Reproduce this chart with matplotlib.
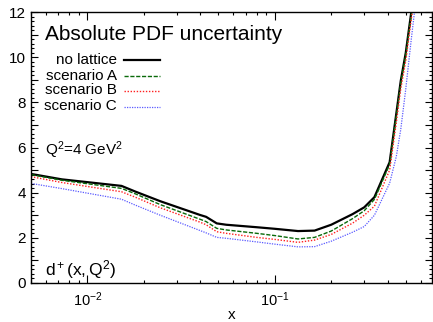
import math
import matplotlib
matplotlib.use("Agg")
import matplotlib.pyplot as plt
from matplotlib.ticker import MultipleLocator, LogLocator, FuncFormatter

plt.rcParams['font.family'] = ['Liberation Sans', 'DejaVu Sans']
plt.rcParams['mathtext.fontset'] = 'custom'
plt.rcParams['mathtext.rm'] = 'Liberation Sans'
plt.rcParams['mathtext.it'] = 'Liberation Sans:italic'

# x grid shared by all curves
x = [0.005, 0.0073, 0.0152, 0.018, 0.0245, 0.040, 0.043, 0.049, 0.055, 0.08, 0.10,
     0.133, 0.163, 0.20, 0.26, 0.30, 0.34, 0.41, 0.445, 0.47, 0.50, 0.535, 0.56, 0.60]

no_lattice = [4.83, 4.59, 4.30, 4.05, 3.62, 3.01, 2.93, 2.64, 2.58, 2.47, 2.40,
              2.30, 2.32, 2.58, 3.05, 3.35, 3.80, 5.35, 7.5, 8.95, 10.2, 12.0, 13.0, 14.5]
scen_A = [4.80, 4.55, 4.19, 3.95, 3.47, 2.82, 2.72, 2.42, 2.35, 2.20, 2.10,
          1.95, 2.02, 2.30, 2.85, 3.20, 3.70, 5.25, 7.4, 8.85, 10.1, 11.9, 12.9, 14.5]
scen_B = [4.71, 4.45, 4.04, 3.80, 3.33, 2.69, 2.58, 2.27, 2.20, 2.02, 1.93,
          1.80, 1.90, 2.15, 2.65, 3.00, 3.40, 5.00, 7.1, 8.6, 9.85, 11.7, 12.8, 14.5]
scen_C = [4.41, 4.18, 3.71, 3.45, 3.00, 2.32, 2.22, 2.02, 1.98, 1.82, 1.72,
          1.60, 1.61, 1.85, 2.25, 2.50, 3.00, 4.42, 5.6, 6.8, 8.6, 10.8, 12.2, 14.0]

labels = ["no lattice", "scenario A", "scenario B", "scenario C"]
colors = ['black', '#0a6a0a', '#ff2020', '#5a5aff']
widths = [1.6, 1.0, 1.0, 0.9]
styles = ['-', (0, (3, 1.2)), (0, (1, 1.2)), (0, (1, 1))]

W, H = 433, 322
L, R, T, B = 31, 432, 12, 283

fig = plt.figure(figsize=(W / 100, H / 100), dpi=100)
ax = fig.add_axes([L / W, 1 - B / H, (R - L) / W, (B - T) / H])

def ax_xy(px, py):
    # pixel position -> axes fraction
    return (px - L) / (R - L), (B - py) / (B - T)

for ys, lab, c, lw, ls in zip([no_lattice, scen_A, scen_B, scen_C], labels, colors, widths, styles):
    ax.plot(x, ys, color=c, lw=lw, ls=ls)

ax.set_xscale('log')
ax.set_xlim(0.005, 0.69)
ax.set_ylim(0, 12)

ax.yaxis.set_major_locator(MultipleLocator(1))
ax.yaxis.set_minor_locator(MultipleLocator(0.2))
ax.yaxis.set_major_formatter(FuncFormatter(lambda v, p: "%d" % v if int(round(v)) % 2 == 0 else ""))
ax.xaxis.set_major_locator(LogLocator(base=10))
ax.xaxis.set_minor_locator(LogLocator(base=10, subs=range(2, 10)))
ax.xaxis.set_major_formatter(FuncFormatter(lambda v, p: r"$\mathregular{10^{%d}}$" % round(math.log10(v))))

ax.tick_params(which='both', direction='in', top=True, right=True, width=0.8, labelsize=11)
ax.tick_params(which='major', length=5)
ax.tick_params(which='minor', length=2.5)
ax.tick_params(axis='x', which='major', length=6, pad=5, labelsize=10.5)
for s in ax.spines.values():
    s.set_linewidth(1.0)

ax.set_xlabel("x", fontsize=11)
ax.xaxis.set_label_coords(*ax_xy(232, 315))
ax.xaxis.label.set_va('center')

ax.text(*ax_xy(45, 40), "Absolute PDF uncertainty", transform=ax.transAxes,
        fontsize=15, va='baseline', ha='left')

# legend drawn by hand: labels right aligned, sample line on the right
row_y = [60, 75.5, 90.5, 106.5]
for ry, lab, c, lw, ls in zip(row_y, labels, colors, widths, styles):
    ax.text(*ax_xy(117, ry), lab, transform=ax.transAxes, fontsize=11,
            ha='right', va='center')
    x0, y0 = ax_xy(124, ry)
    x1, _ = ax_xy(160, ry)
    ax.plot([x0, x1], [y0, y0], transform=ax.transAxes, color=c, lw=lw, ls=ls)

ax.text(*ax_xy(45, 155), r"$\mathregular{Q^2}$=4 GeV$\mathregular{^2}$", transform=ax.transAxes,
        fontsize=11, va='baseline', ha='left')
ax.text(*ax_xy(45, 275), r"$\mathregular{d^+(x,Q^2)}$", transform=ax.transAxes,
        fontsize=12.5, va='baseline', ha='left')

fig.savefig("out.png", dpi=100)
